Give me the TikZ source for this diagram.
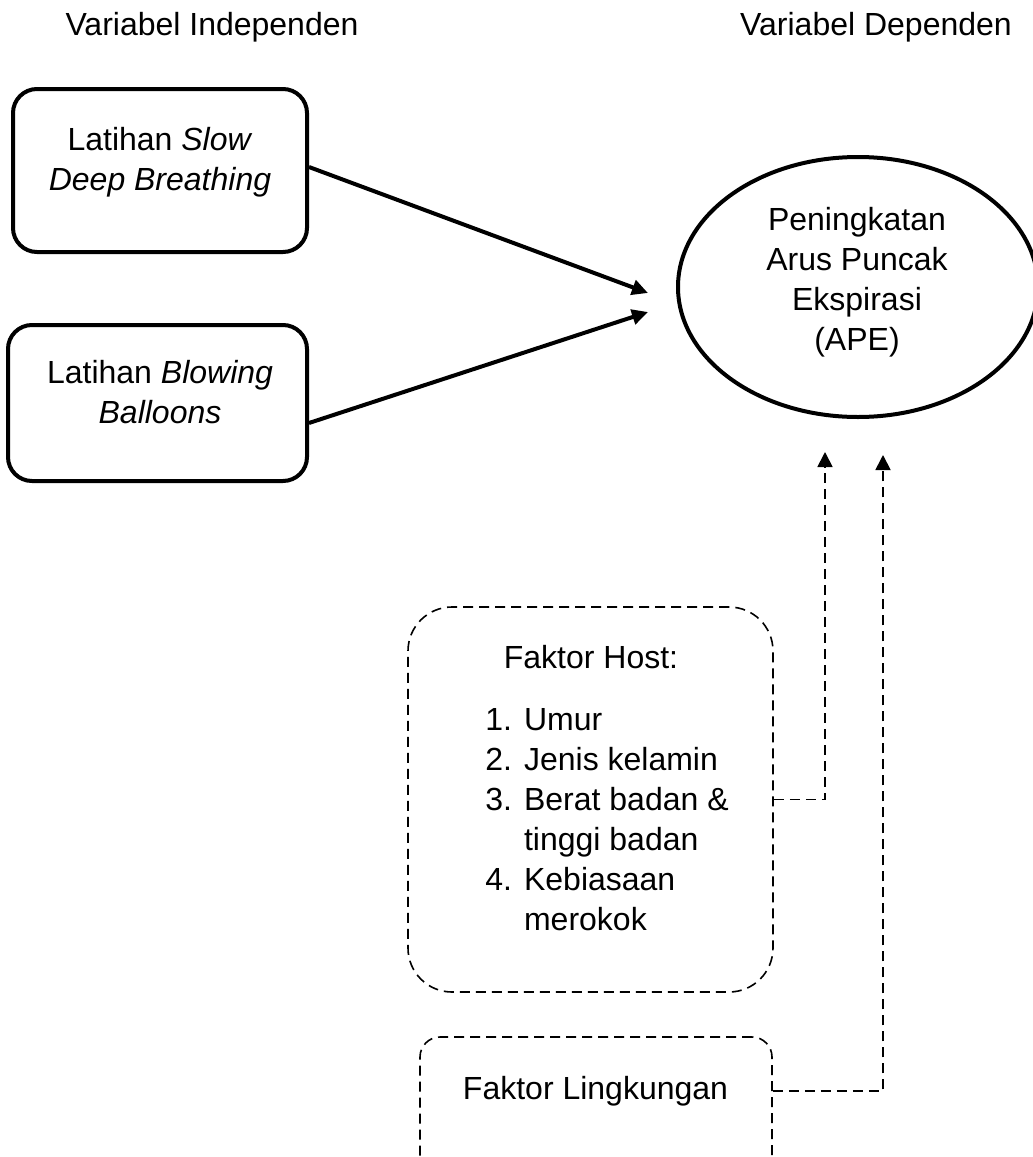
\documentclass[tikz,border=0pt]{standalone}
\usepackage{fontspec}
\setmainfont{Liberation Sans}
\usetikzlibrary{arrows.meta,shapes.geometric}
\begin{document}
\begin{tikzpicture}[x=0.5pt,y=-0.5pt,
  txt/.style={font=\fontsize{16}{20}\selectfont, inner sep=0pt, anchor=base},
  solidbox/.style={draw, line width=2pt, rounded corners=12pt, inner sep=0pt},
  dashbox/.style={draw, line width=0.8pt, dash pattern=on 5pt off 3pt, inner sep=0pt},
  arr/.style={line width=2pt, -{Triangle[length=8pt,width=7.5pt]}},
  darr/.style={line width=0.9pt, dash pattern=on 5pt off 3pt, -{Triangle[length=7.5pt,width=7.5pt]}}]
\clip (0,0) rectangle (1033,1157);
\fill[white] (0,0) rectangle (1033,1157);

% headers
\node[txt] (h1) at (212,35) {Variabel Independen};
\node[txt] (h2) at (876,35) {Variabel Dependen};

% independent boxes
\node[solidbox, minimum width=147pt, minimum height=81.5pt] (b1) at (160,170.5) {};
\node[txt] (b1t) at (160,150) {\begin{tabular}[t]{@{}c@{}}Latihan \textit{Slow}\\ \textit{Deep Breathing}\end{tabular}};

\node[solidbox, minimum width=149.5pt, minimum height=78pt] (b2) at (157.5,403) {};
\node[txt] (b2t) at (160,383) {\begin{tabular}[t]{@{}c@{}}Latihan \textit{Blowing}\\ \textit{Balloons}\end{tabular}};

% dependent ellipse
\node[draw, ellipse, line width=2pt, minimum width=180pt, minimum height=130pt, inner sep=0pt] (ape) at (858,287) {};
\node[txt] (apet) at (857,230) {\begin{tabular}[t]{@{}c@{}}Peningkatan\\ Arus Puncak\\ Ekspirasi\\ (APE)\end{tabular}};

% confounding boxes
\node[dashbox, rounded corners=22pt, minimum width=182.5pt, minimum height=192.5pt] (host) at (590.5,799.5) {};
\node[txt] (hostt) at (591,668) {Faktor Host:};
\node[txt, anchor=base west] (hostl) at (485,730) {\begin{tabular}[t]{@{}l@{\hspace{6pt}}l@{}}
1. & Umur\\
2. & Jenis kelamin\\
3. & Berat badan \&\\
   & tinggi badan\\
4. & Kebiasaan\\
   & merokok
\end{tabular}};

\node[dashbox, rounded corners=10pt, minimum width=176pt, minimum height=69pt] (ling) at (596,1106) {};
\node[txt] (lingt) at (595.5,1099) {Faktor Lingkungan};

% connector end points
\coordinate (t1) at (648,293);
\coordinate (t2) at (648,312);
\coordinate (t3) at (825,452);
\coordinate (t4) at (883,455);

% connectors
\draw[arr] ([yshift=1.75pt]b1.east) -- (t1);
\draw[arr] ([yshift=-10pt]b2.east) -- (t2);
\draw[darr] (host.east) -| (t3);
\draw[darr] ([yshift=-27.5pt]ling.north east) -| (t4);
\end{tikzpicture}
\end{document}
